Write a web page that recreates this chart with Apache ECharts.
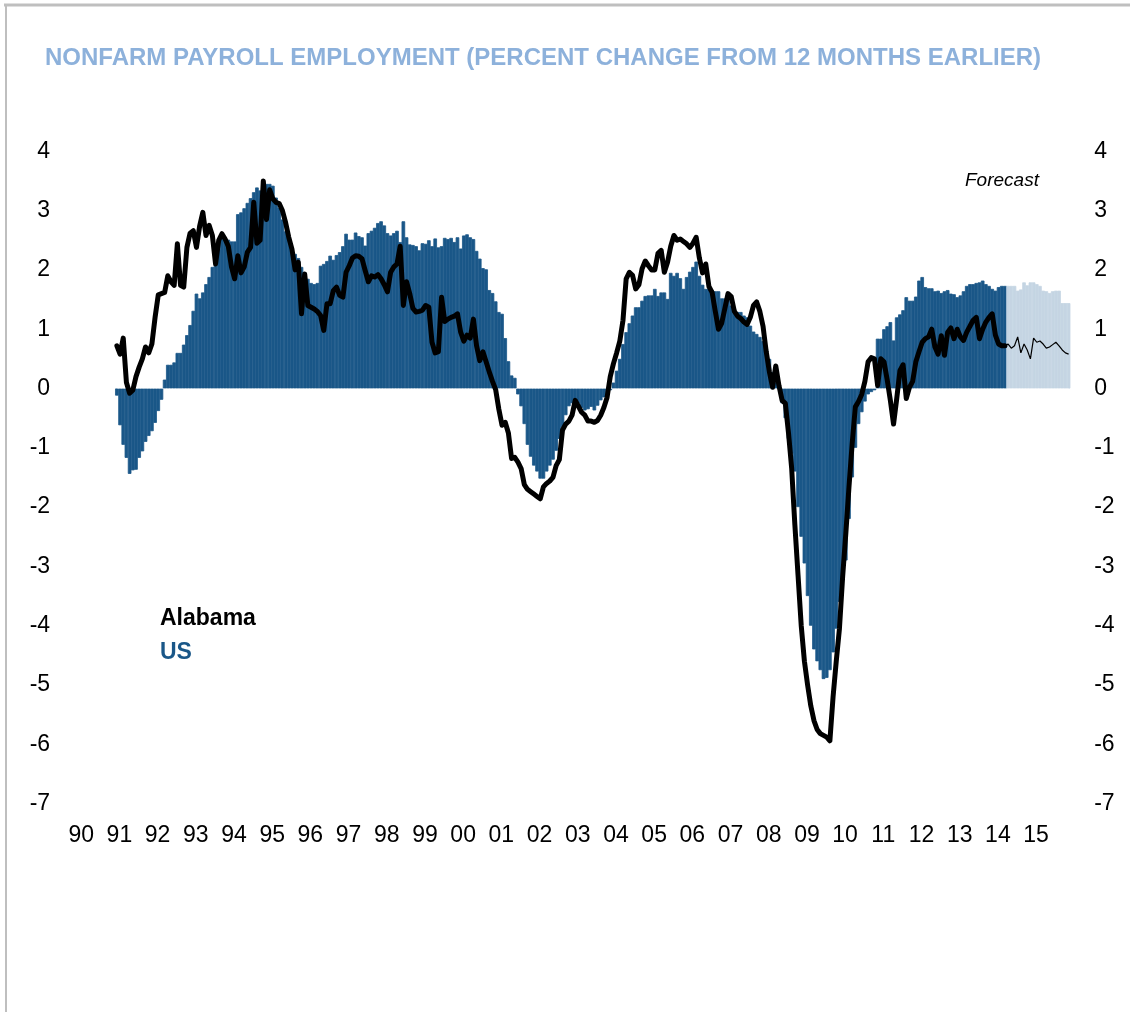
<!DOCTYPE html>
<html>
<head>
<meta charset="utf-8">
<script src="https://cdn.jsdelivr.net/npm/echarts@6/dist/echarts.min.js"></script>
<style>
html,body{margin:0;padding:0;background:#fff;}
#c{width:1130px;height:1012px;}
</style>
</head>
<body>
<div id="c"></div>
<script>
// Years shown on the x axis (monthly categories are built from them)
const years = [1990,1991,1992,1993,1994,1995,1996,1997,1998,1999,2000,2001,2002,2003,2004,2005,2006,2007,2008,2009,2010,2011,2012,2013,2014,2015];
const yTicks = [-7,-6,-5,-4,-3,-2,-1,0,1,2,3,4];

// US nonfarm payroll, % change yoy, monthly Jan 1991 - Apr 2014 (actual)
const usActual = [
 -0.12,-0.62,-0.95,-1.17,-1.44,-1.38,-1.37,-1.17,-1.06,-0.9,-0.8,-0.72,
 -0.58,-0.38,-0.19,0.15,0.4,0.4,0.44,0.6,0.6,0.74,0.9,1.07,
 1.31,1.6,1.52,1.62,1.76,1.88,2.05,2.19,2.35,2.55,2.55,2.51,
 2.48,2.48,2.94,2.97,3.04,3.13,3.21,3.31,3.39,3.34,3.41,3.45,
 3.45,3.42,3.22,3.05,2.85,2.65,2.5,2.35,2.27,2.2,2.05,1.96,
 1.85,1.78,1.76,1.78,2.07,2.1,2.15,2.24,2.17,2.25,2.3,2.4,
 2.61,2.51,2.51,2.63,2.57,2.55,2.41,2.62,2.66,2.71,2.79,2.82,
 2.75,2.62,2.58,2.62,2.66,2.47,2.82,2.55,2.43,2.42,2.4,2.33,
 2.45,2.44,2.5,2.4,2.53,2.38,2.4,2.54,2.52,2.54,2.47,2.55,
 2.36,2.58,2.6,2.55,2.52,2.32,2.19,2.03,2.01,1.66,1.61,1.47,
 1.29,1.26,0.85,0.46,0.22,0.18,-0.1,-0.3,-0.6,-0.95,-1.15,-1.3,
 -1.4,-1.52,-1.52,-1.4,-1.3,-1.2,-1.05,-0.85,-0.65,-0.45,-0.3,-0.25,
 -0.2,-0.25,-0.33,-0.37,-0.35,-0.31,-0.37,-0.29,-0.2,-0.15,-0.1,-0.03,
 0.1,0.3,0.5,0.75,0.95,1.1,1.23,1.37,1.37,1.48,1.56,1.57,
 1.57,1.68,1.56,1.62,1.62,1.51,1.95,1.9,1.95,1.86,1.68,1.88,
 1.97,2.05,2.14,1.9,1.75,1.68,1.68,1.66,1.64,1.64,1.52,1.52,
 1.52,1.4,1.34,1.29,1.29,1.23,1.2,1.06,0.96,0.92,0.87,0.8,
 0.67,0.5,0.28,0.1,0.02,-0.25,-0.5,-0.85,-1.1,-1.4,-2.0,-2.5,
 -2.95,-3.5,-4.0,-4.4,-4.6,-4.75,-4.9,-4.88,-4.75,-4.45,-4.05,-3.6,
 -3.2,-2.9,-2.2,-1.5,-1.0,-0.6,-0.4,-0.22,-0.1,-0.06,-0.03,0.84,
 0.84,1.0,1.05,1.12,0.81,1.2,1.25,1.32,1.54,1.48,1.48,1.55,
 1.82,1.88,1.71,1.69,1.69,1.64,1.65,1.61,1.64,1.66,1.6,1.59,
 1.54,1.57,1.64,1.73,1.76,1.76,1.78,1.79,1.82,1.76,1.73,1.68,
 1.65,1.71,1.73,1.73
];
// US forecast, May 2014 - Dec 2015
const usForecast = [1.73,1.73,1.73,1.65,1.67,1.79,1.74,1.79,1.79,1.76,1.73,1.65,1.64,1.61,1.64,1.65,1.65,1.44,1.44,1.44];

// Alabama, % change yoy, monthly Jan 1991 - Apr 2014 (actual)
const alActual = [
 0.72,0.58,0.85,0.1,-0.08,-0.03,0.2,0.36,0.5,0.7,0.6,0.75,
 1.2,1.58,1.6,1.62,1.9,1.8,1.74,2.44,1.74,1.71,2.38,2.62,
 2.66,2.38,2.74,2.97,2.58,2.75,2.58,2.1,2.5,2.61,2.52,2.4,
 2.05,1.85,2.24,1.95,2.05,2.3,2.38,3.14,2.45,2.5,3.5,2.85,
 3.35,3.2,3.14,3.12,3.0,2.8,2.55,2.35,2.0,2.13,1.26,1.93,
 1.4,1.37,1.34,1.3,1.23,0.98,1.43,1.43,1.65,1.71,1.57,1.54,
 1.96,2.07,2.2,2.24,2.23,2.19,1.99,1.8,1.9,1.88,1.92,1.85,
 1.75,1.63,1.96,2.05,2.1,2.4,1.4,1.8,1.6,1.35,1.29,1.3,
 1.32,1.4,1.37,0.78,0.6,0.62,1.54,1.13,1.17,1.2,1.22,1.26,
 0.95,0.8,0.9,0.85,1.17,0.72,0.47,0.62,0.45,0.28,0.12,-0.02,
 -0.35,-0.62,-0.57,-0.75,-1.18,-1.16,-1.24,-1.35,-1.62,-1.7,-1.74,-1.78,
 -1.82,-1.86,-1.66,-1.6,-1.56,-1.5,-1.3,-1.2,-0.7,-0.6,-0.55,-0.45,
 -0.2,-0.3,-0.4,-0.45,-0.55,-0.55,-0.57,-0.54,-0.45,-0.32,-0.15,0.2,
 0.42,0.6,0.8,1.15,1.85,1.96,1.91,1.68,1.75,2.02,2.15,2.07,
 2.0,2.0,2.28,2.33,1.96,2.13,2.4,2.58,2.5,2.52,2.48,2.44,
 2.38,2.45,2.55,2.2,1.95,2.1,1.72,1.62,1.3,1.0,1.1,1.35,
 1.6,1.55,1.3,1.22,1.18,1.12,1.08,1.2,1.4,1.46,1.3,1.05,
 0.62,0.28,0.02,0.38,0.05,-0.2,-0.25,-0.75,-1.35,-2.3,-3.15,-4.0,
 -4.6,-5.0,-5.35,-5.6,-5.75,-5.82,-5.85,-5.88,-5.94,-5.2,-4.6,-4.05,
 -3.18,-2.45,-1.66,-0.93,-0.31,-0.22,-0.1,0.12,0.45,0.52,0.5,0.05,
 0.5,0.45,0.15,-0.2,-0.6,-0.17,0.3,0.4,-0.17,0.02,0.12,0.45,
 0.62,0.78,0.84,0.87,1.0,0.7,0.58,0.89,0.56,0.95,1.02,0.84,
 1.0,0.87,0.81,0.95,1.05,1.15,1.2,0.84,1.0,1.12,1.2,1.26,
 0.9,0.75,0.72,0.72
];
// Alabama forecast, Apr 2014 (joins actual) - Dec 2015
const alForecast = [0.72,0.75,0.68,0.72,0.87,0.6,0.75,0.65,0.5,0.85,0.78,0.8,0.75,0.68,0.7,0.74,0.78,0.72,0.65,0.6,0.58];

const titleText = 'NONFARM PAYROLL EMPLOYMENT (PERCENT CHANGE FROM 12 MONTHS EARLIER)';

// ---- build monthly categories & padded series ----
const categories = [];
years.forEach(y => { for (let m = 0; m < 12; m++) categories.push(String(y % 100).padStart(2, '0') + '-' + m); });
const N = categories.length;
const lead = 12; // 1990 has no data
function pad(arr, start) {
  const out = new Array(N).fill(null);
  arr.forEach((v, i) => { out[start + i] = v; });
  return out;
}
const usActualData = pad(usActual, lead);
const usForecastData = pad(usForecast, lead + usActual.length);
const alActualData = pad(alActual, lead);
const alForecastData = pad(alForecast, lead + alActual.length - 1);

const FONT = "'Liberation Sans', Arial, sans-serif";
const DARK = '#1a5788';
const LIGHT = '#c5d5e3';
const chart = echarts.init(document.getElementById('c'), null, {renderer: 'canvas'});
const yAxisCommon = {
  type: 'value', min: yTicks[0], max: yTicks[yTicks.length - 1], interval: 1,
  axisLine: {show: false}, axisTick: {show: false}, splitLine: {show: false},
  axisLabel: {fontSize: 23, color: '#000', fontFamily: FONT}
};
chart.setOption({
  animation: false,
  backgroundColor: '#fff',
  title: {
    text: titleText, left: 40, top: 41,
    textStyle: {fontSize: 24, fontWeight: 'bold', color: '#8db1db', fontFamily: FONT}
  },
  grid: {left: 77.1, right: 59.8, top: 151.3, bottom: 208.4, containLabel: false},
  xAxis: {
    type: 'category', data: categories, boundaryGap: true,
    axisLine: {show: false}, axisTick: {show: false}, splitLine: {show: false},
    axisLabel: {
      interval: (i) => i % 12 === 0,
      formatter: (v) => v.split('-')[0],
      fontSize: 23, color: '#000', fontFamily: FONT, margin: 21,
      padding: [0, 0, 0, 5]
    }
  },
  yAxis: [
    Object.assign({}, yAxisCommon, {position: 'left', axisLabel: Object.assign({}, yAxisCommon.axisLabel, {margin: 27})}),
    Object.assign({}, yAxisCommon, {position: 'right', axisLabel: Object.assign({}, yAxisCommon.axisLabel, {margin: 24})})
  ],
  series: [
    {
      name: 'US', type: 'bar', data: usActualData, barWidth: 3.6, barGap: '-100%',
      itemStyle: {color: DARK, borderColor: DARK, borderWidth: 0.8}, z: 2,
      markLine: {
        silent: true, symbol: 'none', label: {show: false},
        lineStyle: {color: 'rgba(255,255,255,0.3)', width: 1, type: 'solid'},
        data: [[{xAxis: lead, yAxis: 0}, {xAxis: N - 1, yAxis: 0}]]
      }
    },
    {
      name: 'US forecast', type: 'bar', data: usForecastData, barWidth: 3.6, barGap: '-100%',
      itemStyle: {color: LIGHT, borderColor: LIGHT, borderWidth: 0.8}, z: 2
    },
    {
      name: 'Alabama', type: 'line', data: alActualData, showSymbol: false, symbol: 'none',
      lineStyle: {color: '#000', width: 5, join: 'round', cap: 'round'}, z: 5, connectNulls: false
    },
    {
      name: 'Alabama forecast', type: 'line', data: alForecastData, showSymbol: false, symbol: 'none',
      lineStyle: {color: '#000', width: 1.2}, z: 5
    }
  ],
  graphic: [
    {type: 'line', shape: {x1: 4, y1: 5, x2: 1130, y2: 5}, style: {stroke: '#bfbfbf', lineWidth: 3}, z: 100},
    {type: 'line', shape: {x1: 6, y1: 4, x2: 6, y2: 1012}, style: {stroke: '#bfbfbf', lineWidth: 2}, z: 100},
    {type: 'text', left: 965, top: 171, style: {text: 'Forecast', font: "italic 19px 'Liberation Sans', Arial, sans-serif", fill: '#000'}},
    {type: 'text', left: 160, top: 607, style: {text: 'Alabama', font: "bold 23px 'Liberation Sans', Arial, sans-serif", fill: '#000'}},
    {type: 'text', left: 160, top: 641, style: {text: 'US', font: "bold 23px 'Liberation Sans', Arial, sans-serif", fill: DARK}}
  ]
});
</script>
</body>
</html>
